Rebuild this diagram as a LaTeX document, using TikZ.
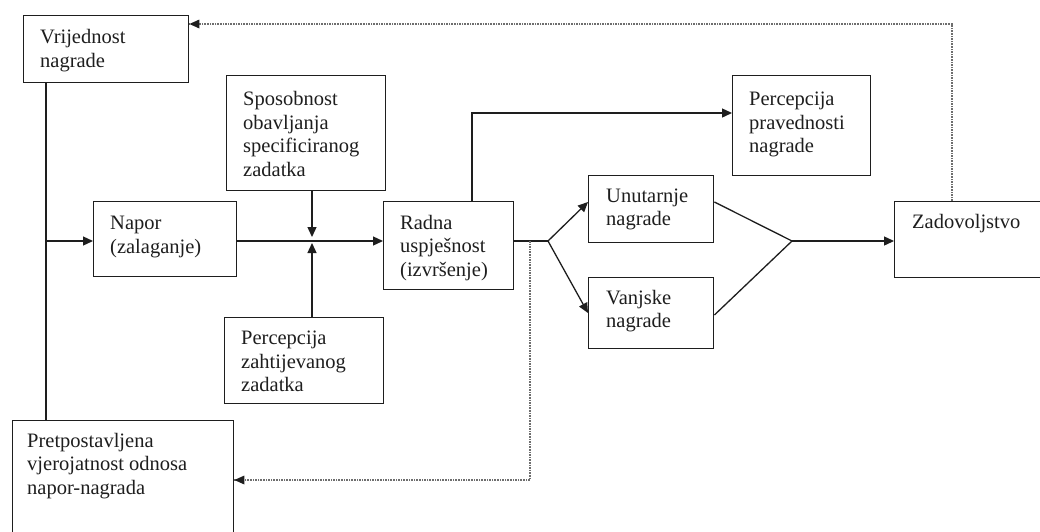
\documentclass[tikz,border=0pt]{standalone}
\usepackage{fontspec}
\setmainfont{Liberation Serif}
\usetikzlibrary{arrows.meta}
\definecolor{ink}{HTML}{1E1E1E}
\definecolor{dotc}{HTML}{6E6E6E}
\tikzset{
  bx/.style={draw=ink, line width=1.4pt, inner sep=0pt, anchor=north west},
  lbl/.style={anchor=west, align=left, inner sep=0pt, text=ink,
    font=\fontsize{20.5}{23.5}\selectfont},
  lbltop/.style={lbl, anchor=north west},
  conn/.style={draw=ink, line width=1.3pt},
  tip/.style={-{Triangle[length=10pt,width=9pt]}},
  dotl/.style={draw=dotc, line width=1.6pt, densely dotted},
}
\begin{document}
\begin{tikzpicture}[x=1pt,y=-1pt]
\useasboundingbox (0,0) rectangle (1040,531);
\clip (0,0) rectangle (1040,531);
\fill[white] (0,0) rectangle (1040,531);
% boxes
\node[bx, minimum width=165pt, minimum height=67pt] (vr) at (23,15) {};
\node[bx, minimum width=159pt, minimum height=115pt] (sp) at (226,75) {};
\node[bx, minimum width=143pt, minimum height=75pt] (na) at (93,201) {};
\node[bx, minimum width=130pt, minimum height=88pt] (ra) at (383,201) {};
\node[bx, minimum width=159pt, minimum height=86pt] (pz) at (224,317) {};
\node[bx, minimum width=138pt, minimum height=100pt] (pp) at (732,75) {};
\node[bx, minimum width=125pt, minimum height=67pt] (un) at (588,175) {};
\node[bx, minimum width=125pt, minimum height=71pt] (va) at (588,277) {};
\node[bx, minimum width=170pt, minimum height=76pt] (zd) at (894,201) {};
\node[bx, minimum width=221pt, minimum height=150pt] (pr) at (12,420) {};
% labels
\node[lbl] (vrt) at ([xshift=17pt,yshift=-1.5pt]vr.west) {Vrijednost\\nagrade};
\node[lbl] (spt) at ([xshift=17pt,yshift=-1pt]sp.west) {Sposobnost\\obavljanja\\specificiranog\\zadatka};
\node[lbl] (nat) at ([xshift=17pt,yshift=2pt]na.west) {Napor\\(zalaganje)};
\node[lbl] (rat) at ([xshift=17pt,yshift=-2pt]ra.west) {Radna\\uspješnost\\(izvršenje)};
\node[lbl] (pzt) at ([xshift=17pt,yshift=-1pt]pz.west) {Percepcija\\zahtijevanog\\zadatka};
\node[lbl] (ppt) at ([xshift=17pt,yshift=1pt]pp.west) {Percepcija\\pravednosti\\nagrade};
\node[lbl] (unt) at ([xshift=18pt,yshift=0pt]un.west) {Unutarnje\\nagrade};
\node[lbl] (vat) at ([xshift=18pt,yshift=2pt]va.west) {Vanjske\\nagrade};
\node[lbltop] (zdt) at ([xshift=18pt,yshift=-13pt]zd.north west) {Zadovoljstvo};
\node[lbltop] (prt) at ([xshift=15pt,yshift=-13pt]pr.north west) {Pretpostavljena\\vjerojatnost odnosa\\napor-nagrada};
% helper coordinates
\coordinate (lx) at (46,241);
\coordinate (jn) at (312,241);
\coordinate (rt) at (472,113);
\coordinate (fk) at (548,241);
\coordinate (mg) at (792,241);
\coordinate (tr) at (952,24);
\coordinate (dv) at (530,241);
\coordinate (db) at (530,480);
% connectors
\draw[conn] (vr.south -| lx) -- (pr.north -| lx);
\draw[conn, tip] (lx) -- (na.west |- lx);
\draw[conn, tip] (na.east |- jn) -- (ra.west |- jn);
\draw[conn, tip] (sp.south -| jn) -- ([yshift=4pt]jn);
\draw[conn, tip] (pz.north -| jn) -- ([yshift=-2pt]jn);
\draw[conn, tip] (ra.north -| rt) -- (rt) -- (pp.west |- rt);
\draw[conn] (ra.east |- fk) -- (fk);
\draw[conn, tip] (fk) -- (un.west |- 0,202);
\draw[conn, tip] (fk) -- (va.west |- 0,313);
\draw[conn] (un.east |- 0,202) -- (mg) -- (va.east |- 0,315);
\draw[conn, tip] (mg) -- (zd.west |- mg);
\draw[dotl] (zd.north -| tr) -- (tr) -- (vr.east |- tr);
\draw[dotl] (dv) -- (db) -- (pr.east |- db);
\fill[ink] (vr.east |- tr) -- ++(10,-4.5) -- ++(0,9) -- cycle;
\fill[ink] (pr.east |- db) -- ++(10,-4.5) -- ++(0,9) -- cycle;
\end{tikzpicture}
\end{document}
